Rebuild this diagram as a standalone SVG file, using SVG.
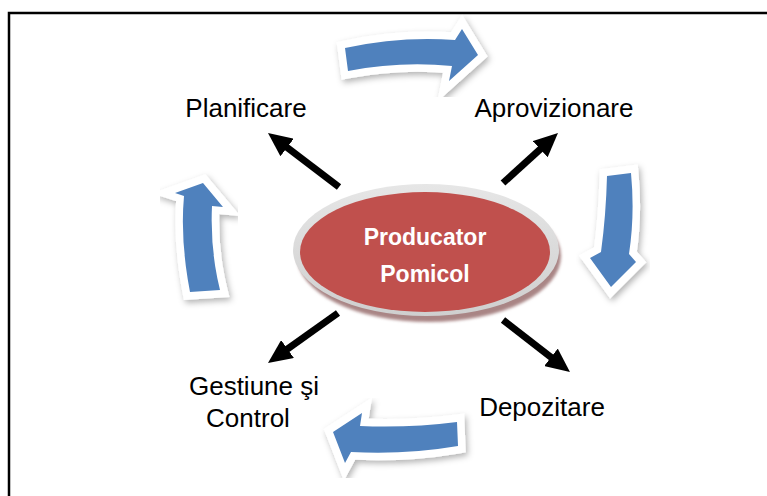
<svg xmlns="http://www.w3.org/2000/svg" width="767" height="496" viewBox="0 0 767 496">
  <style>
    .label { font-family: "Liberation Sans", Arial, sans-serif; font-size: 26px; fill: #000; text-anchor: middle; }
    .core { font-family: "Liberation Sans", Arial, sans-serif; font-size: 23px; font-weight: bold; fill: #fff; text-anchor: middle; }
    .cycle { fill: #4f81bd; stroke: #fff; stroke-width: 15; stroke-linejoin: miter; stroke-miterlimit: 6; paint-order: stroke; filter: url(#softShadow); }
    .spoke { stroke: #000; stroke-width: 7; fill: none; marker-end: url(#head); }
  </style>
  <defs>
    <filter id="softShadow" x="-30%" y="-30%" width="160%" height="160%">
      <feDropShadow dx="2" dy="3" stdDeviation="3" flood-color="#000" flood-opacity="0.3"/>
    </filter>
    <filter id="blurShadow" x="-10%" y="-10%" width="120%" height="130%">
      <feGaussianBlur stdDeviation="1.5"/>
    </filter>
    <linearGradient id="rim" x1="0" y1="0" x2="0" y2="1">
      <stop offset="0" stop-color="#e6e6e6"/>
      <stop offset="1" stop-color="#cfcfcf"/>
    </linearGradient>
    <marker id="head" markerUnits="userSpaceOnUse" markerWidth="24" markerHeight="22" refX="2" refY="11" orient="auto">
      <path d="M0,0 L24,11 L0,22 Z" fill="#000"/>
    </marker>
  </defs>

  <!-- frame -->
  <rect x="9" y="13" width="800" height="520" fill="#fff" stroke="#000" stroke-width="2.5"/>

  <!-- cycle arrows -->
  <g id="cycle-arrows">
    <path class="cycle" d="M345,48 Q400,36 455,40 L462,29 L478,55 L449,81 L452,66 Q400,61 348,71 Z"/>
    <path class="cycle" d="M607,176 L631,173 Q635,215 629,254 L636,262 L611,287 L590,258 L601,252 Q606,215 607,176 Z"/>
    <path class="cycle" d="M457,422 Q410,428 360,426 L362,413 L333,432 L345,463 L351,452 Q405,455 458,446 Z"/>
    <path class="cycle" d="M190,292 Q180,240 184,196 L175,193 L203,183 L223,207 L212,206 Q210,250 220,290 Z"/>
  </g>

  <!-- spokes -->
  <g id="connectors">
    <path class="spoke" d="M339,187 L285.5,146.3"/>
    <path class="spoke" d="M503,183 L541.7,147.8"/>
    <path class="spoke" d="M338,313 L285.9,350.2"/>
    <path class="spoke" d="M503,320 L552.6,358.5"/>
  </g>

  <!-- central node -->
  <g id="producator-pomicol">
    <ellipse cx="429" cy="256" rx="132" ry="66" fill="#a98585" filter="url(#blurShadow)"/>
    <ellipse cx="426" cy="250" rx="133" ry="66" fill="url(#rim)"/>
    <ellipse cx="425" cy="252" rx="125" ry="60" fill="#c0504d"/>
    <text class="core" x="425" y="245">Producator</text>
    <text class="core" x="425" y="282">Pomicol</text>
  </g>

  <g id="planificare">
    <text class="label" x="246" y="117">Planificare</text>
  </g>
  <g id="aprovizionare">
    <text class="label" x="554" y="117">Aprovizionare</text>
  </g>
  <g id="depozitare">
    <text class="label" x="542" y="416">Depozitare</text>
  </g>
  <g id="gestiune-control">
    <text class="label" x="254" y="395">Gestiune şi</text>
    <text class="label" x="248" y="427">Control</text>
  </g>
</svg>
